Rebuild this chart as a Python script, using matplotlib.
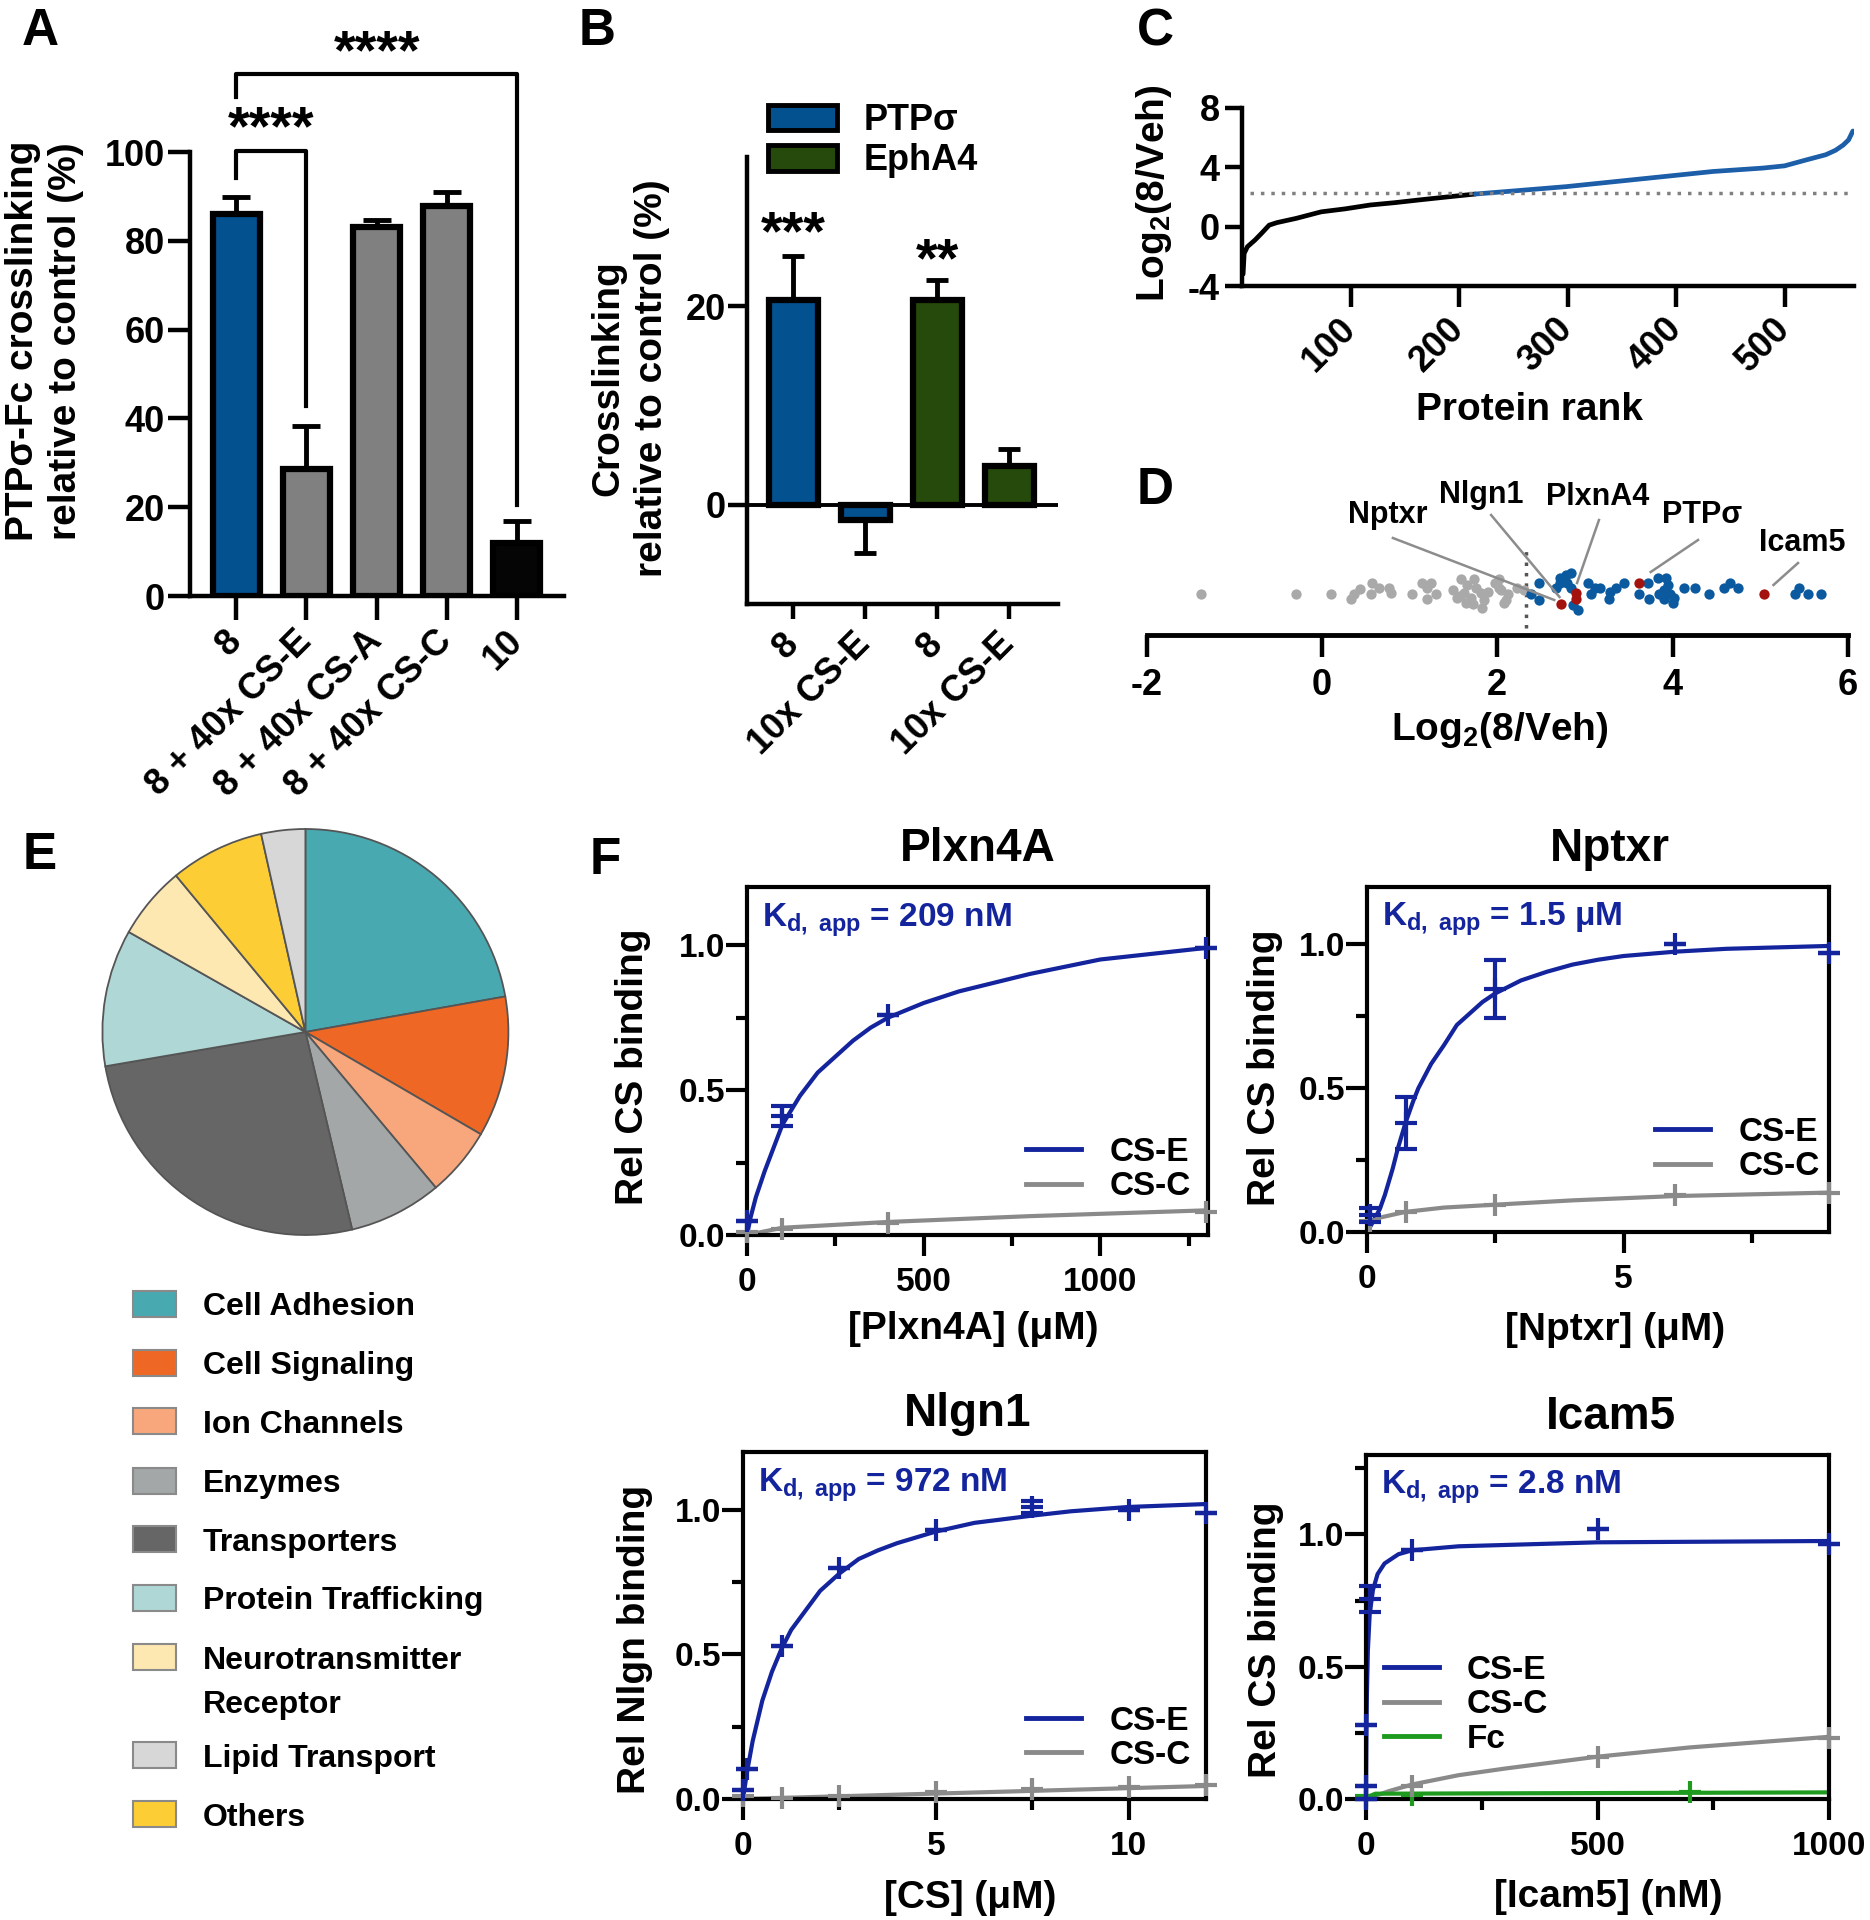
import numpy as np
import matplotlib
matplotlib.use('Agg')
import matplotlib.pyplot as plt
from matplotlib.patches import Patch, Rectangle
from matplotlib.lines import Line2D

# ---------------- data ----------------
# A: PTPsigma-Fc crosslinking relative to control (%)
a_labels = ['8', '8 + 40x CS-E', '8 + 40x CS-A', '8 + 40x CS-C', '10']
a_vals = [86.0, 28.5, 83.0, 87.8, 12.0]
a_err = [3.8, 9.8, 1.6, 3.3, 4.8]

# B: crosslinking relative to control (%)
b_labels = ['8', '10x CS-E', '8', '10x CS-E']
b_groups = ['PTPσ', 'PTPσ', 'EphA4', 'EphA4']
b_vals = [20.6, -1.5, 20.6, 3.9]
b_err = [4.4, 3.4, 2.0, 1.7]

# C: ranked log2(8/Veh)
c_rank = [1, 2, 5, 12, 18, 25, 32, 50, 73, 95, 118, 141, 163, 186, 215,
          254, 299, 344, 389, 434, 480, 500, 520, 538, 547, 554, 559, 563]
c_val = [-3.2, -1.8, -1.35, -0.9, -0.45, 0.1, 0.27, 0.56, 1.0, 1.2, 1.46, 1.62, 1.8, 1.98, 2.2,
         2.43, 2.7, 3.04, 3.38, 3.72, 3.95, 4.1, 4.5, 4.85, 5.15, 5.5, 5.85, 6.45]
cutoff = 2.3

# D: log2(8/Veh) of membrane proteins (x) with vertical jitter (y)
d_gray_x = [-1.38, -0.30, 0.10, 0.33, 0.37, 0.43, 0.57, 0.56, 0.65, 0.77, 0.79, 1.03, 1.14, 1.20,
            1.25, 1.20, 1.30, 1.49, 1.59, 1.54, 1.62, 1.64, 1.70, 1.74, 1.76, 1.81, 1.83, 1.85,
            2.02, 2.02, 2.08, 2.12, 1.98, 2.04, 2.10, 2.23, 2.31, 1.66, 1.72, 1.90, 1.57]
d_gray_y = [0, 0, 0, -5, 0, 5, 11, 0, 6, 6, 1, 0, 11, 6,
            11, -5, 0, 4, 15, -4, 1, -9, -4, 15, 6, 1, -14, -6,
            15, 6, -9, 0, 11, 4, -6, 6, 4, 9, -10, 2, -2]
d_blue_x = [2.38, 2.48, 2.48, 2.67, 2.71, 2.72, 2.78, 2.79, 2.84, 2.84, 2.86, 2.92, 3.03, 3.07,
            3.12, 3.17, 3.28, 3.29, 3.35, 3.45, 3.62, 3.72, 3.73, 3.83, 3.85, 3.90, 3.90, 3.93,
            3.95, 4.00, 3.97, 4.02, 4.13, 4.25, 4.42, 4.59, 4.66, 4.74, 5.39, 5.44, 5.54, 5.69]
d_blue_y = [0, 11, -6, 6, 16, 11, 19, 11, 21, 6, -11, -16, 11, 0,
            6, 6, -5, 2, 6, 11, 0, 11, -5, 16, 0, -5, 4, 16,
            9, -9, 0, -4, 6, 6, 0, 6, 11, 6, 0, 6, 0, 0]
d_red_x = [2.73, 2.90, 2.90, 3.62, 5.04]
d_red_y = [-10, 1, -5, 11, 0]
d_names = ['Nptxr', 'Nlgn1', 'PlxnA4', 'PTPσ', 'Icam5']
d_name_xy = [(0.75, 79), (1.82, 99), (3.14, 97), (4.34, 79), (5.48, 51)]
d_line_from = [(0.81, 56), (1.93, 79), (3.16, 74), (4.29, 54), (5.43, 31)]
d_line_to = [(2.65, -6), (2.71, -3), (2.91, 11), (3.75, 22), (5.15, 9)]

# E: protein classes (% of hits), pie order clockwise from top
e_cats = ['Cell Adhesion', 'Cell Signaling', 'Ion Channels', 'Enzymes', 'Transporters',
          'Protein Trafficking', 'Neurotransmitter\nReceptor', 'Others', 'Lipid Transport']
e_vals = [22.2, 11.2, 5.5, 7.4, 26.0, 10.9, 5.8, 7.5, 3.5]
e_legend = ['Cell Adhesion', 'Cell Signaling', 'Ion Channels', 'Enzymes', 'Transporters',
            'Protein Trafficking', 'Neurotransmitter\nReceptor', 'Lipid Transport', 'Others']

# F: binding curves (points and fitted curves)
f1_x = [0, 100, 400, 1300]
f1_cse = [0.05, 0.41, 0.76, 0.99]
f1_cse_err = [0, 0.035, 0, 0]
f1_csc = [0.01, 0.02, 0.04, 0.08]
f1_fit_x = [0, 10, 25, 50, 75, 100, 125, 150, 175, 200, 250, 300, 350, 400, 450, 500, 600, 700,
            800, 900, 1000, 1150, 1300]
f1_fit_e = [0.0, 0.06, 0.13, 0.22, 0.30, 0.38, 0.43, 0.48, 0.52, 0.56, 0.615, 0.67, 0.715, 0.75,
            0.775, 0.80, 0.84, 0.87, 0.90, 0.925, 0.95, 0.97, 0.99]
f1_fitc_x = [0, 100, 400, 800, 1300]
f1_fit_c = [0.0, 0.025, 0.045, 0.065, 0.085]

f2_x = [0.05, 0.75, 2.5, 6, 9]
f2_cse = [0.06, 0.38, 0.845, 1.0, 0.97]
f2_cse_err = [0.025, 0.09, 0.1, 0, 0]
f2_csc = [0.04, 0.07, 0.095, 0.13, 0.135]
f2_fit_x = [0, 0.1, 0.25, 0.35, 0.5, 0.6, 0.75, 0.9, 1.0, 1.25, 1.5, 1.75, 2.0, 2.25, 2.5, 3, 3.5,
            4, 4.5, 5, 6, 7, 9]
f2_fit_e = [0, 0.03, 0.08, 0.13, 0.22, 0.29, 0.38, 0.455, 0.5, 0.585, 0.65, 0.72, 0.76, 0.8, 0.83,
            0.875, 0.905, 0.93, 0.947, 0.96, 0.975, 0.985, 0.995]
f2_fitc_x = [0, 0.25, 0.75, 1.5, 2.5, 4, 6, 9]
f2_fit_c = [0.03, 0.05, 0.07, 0.085, 0.095, 0.11, 0.125, 0.137]

f3_x = [0, 0.1, 1, 2.5, 5, 7.5, 10, 12]
f3_cse = [0.03, 0.105, 0.53, 0.80, 0.93, 1.01, 1.0, 0.99]
f3_cse_err = [0, 0, 0, 0, 0, 0.02, 0, 0]
f3_csc_x = [0, 1, 2.5, 5, 7.5, 10, 12]
f3_csc = [0.01, 0.005, 0.012, 0.025, 0.035, 0.043, 0.05]
f3_fit_x = [0, 0.1, 0.25, 0.5, 0.75, 1, 1.25, 1.5, 2, 2.5, 3, 3.5, 4, 5, 6, 7.5, 8.5, 10, 12]
f3_fit_e = [0, 0.09, 0.2, 0.34, 0.44, 0.52, 0.585, 0.63, 0.72, 0.78, 0.83, 0.86, 0.885, 0.925,
            0.955, 0.98, 0.995, 1.01, 1.02]
f3_fitc_x = [0, 12]
f3_fit_c = [0.0, 0.045]

f4_x = [0, 0.2, 1, 8, 100, 500, 1000]
f4_cse = [0.0, 0.05, 0.28, 0.755, 0.94, 1.02, 0.965]
f4_cse_err = [0, 0, 0, 0.05, 0, 0, 0]
f4_csc_x = [0, 100, 500, 1000]
f4_csc = [0.0, 0.05, 0.16, 0.23]
f4_fc_x = [0, 100, 700]
f4_fc = [0.01, 0.015, 0.027]
f4_fit_x = [0, 0.5, 1, 2, 4, 8, 15, 25, 40, 70, 100, 200, 500, 1000]
f4_fit_e = [0, 0.12, 0.25, 0.4, 0.56, 0.7, 0.79, 0.85, 0.89, 0.925, 0.94, 0.955, 0.97, 0.975]
f4_fitc_x = [0, 50, 100, 200, 300, 500, 700, 1000]
f4_fit_c = [0, 0.03, 0.055, 0.09, 0.115, 0.16, 0.195, 0.235]
f4_fitfc_x = [0, 20, 1000]
f4_fit_fc = [0.005, 0.02, 0.025]

# ---------------- style ----------------
plt.rcParams['font.family'] = ['Liberation Sans', 'DejaVu Sans']
plt.rcParams['font.weight'] = 'bold'
plt.rcParams['axes.labelweight'] = 'bold'
plt.rcParams['axes.titleweight'] = 'bold'
plt.rcParams['axes.unicode_minus'] = False
plt.rcParams['mathtext.fontset'] = 'custom'
plt.rcParams['mathtext.rm'] = 'Liberation Sans:bold'
plt.rcParams['mathtext.bf'] = 'Liberation Sans:bold'
plt.rcParams['mathtext.it'] = 'Liberation Sans:bold'
plt.rcParams['mathtext.default'] = 'bf'

ptp_blue = '#03518f'
eph_green = '#264a0b'
navy = '#13249d'
cs_gray = '#8a8a8a'
fc_green = '#1e9a1e'

W, H = 1870, 1920
fig = plt.figure(figsize=(W / 100, H / 100), dpi=100)


def px_axes(left, top, right, bottom):
    return fig.add_axes([left / W, 1 - bottom / H, (right - left) / W, (bottom - top) / H])


def open_spines(ax, lw=3.2):
    ax.spines[['top', 'right']].set_visible(False)
    ax.spines[['left', 'bottom']].set_linewidth(lw)


# overlay in pixel coordinates for panel letters and the pie legend
ov = px_axes(0, 0, W, H)
ov.set_xlim(0, W)
ov.set_ylim(H, 0)
ov.axis('off')
for letter, (lx, ly) in zip('ABCDEF', [(40, 26), (597, 26), (1155, 27), (1155, 485), (40, 850), (605, 855)]):
    ov.text(lx, ly, letter, fontsize=37, ha='center', va='center_baseline')

# ---------------- A ----------------
axA = px_axes(190, 152, 564, 596)
xa = np.arange(len(a_vals))
axA.bar(xa, a_vals, width=0.67, color=[ptp_blue, '#808080', '#808080', '#808080', '#050505'],
        edgecolor='black', linewidth=4.5, zorder=3)
axA.errorbar(xa, a_vals, yerr=[np.zeros(len(a_err)), a_err], fmt='none', ecolor='black',
             elinewidth=3.5, capsize=10, capthick=3.5, zorder=2)
axA.set_xlim(-0.66, 4.67)
axA.set_ylim(0, 100)
axA.set_yticks(range(0, 101, 20))
axA.set_xticks(xa, a_labels, rotation=45, ha='right', va='center', rotation_mode='anchor')
open_spines(axA)
axA.tick_params(axis='y', length=16, width=3.2, labelsize=26, pad=2)
axA.tick_params(axis='x', length=17, width=3.2, labelsize=26, pad=12)
axA.set_ylabel('PTPσ-Fc crosslinking\nrelative to control (%)', fontsize=28, va='center', linespacing=1.25)
axA.yaxis.set_label_coords(-0.39, 0.574)


def bracket(ax, x0, x1, y, y0, y1, stars, ys):
    ax.plot([x0, x0, x1, x1], [y0, y, y, y1], color='black', lw=3, clip_on=False)
    ax.text((x0 + x1) / 2, ys, stars, ha='center', va='center', fontsize=40, clip_on=False)


bracket(axA, 0, 1, 100.2, 94.1, 42.9, '****', 105.0)
bracket(axA, 0, 4, 117.6, 112.4, 20.6, '****', 122.1)

# ---------------- B ----------------
axB = px_axes(747, 157, 1058, 604)
xb = np.arange(len(b_vals))
b_colors = [ptp_blue if g == 'PTPσ' else eph_green for g in b_groups]
axB.bar(xb, b_vals, width=0.68, color=b_colors, edgecolor='black', linewidth=4.5, zorder=3)
lo = [e if v < 0 else 0 for v, e in zip(b_vals, b_err)]
hi = [e if v >= 0 else 0 for v, e in zip(b_vals, b_err)]
axB.errorbar(xb, b_vals, yerr=[lo, hi], fmt='none', ecolor='black', elinewidth=3.5,
             capsize=8, capthick=3.5, zorder=2)
axB.axhline(0, color='black', lw=2.8, zorder=4)
axB.set_xlim(-0.64, 3.68)
axB.set_ylim(-10, 35)
axB.set_yticks([0, 20])
axB.set_xticks(xb, b_labels, rotation=45, ha='right', va='center', rotation_mode='anchor')
open_spines(axB)
axB.tick_params(axis='y', length=14, width=3.2, labelsize=26, pad=1)
axB.tick_params(axis='x', length=11, width=3.2, labelsize=26, pad=14)
axB.set_ylabel('Crosslinking\nrelative to control (%)', fontsize=28, va='center', linespacing=1.25)
axB.yaxis.set_label_coords(-0.375, 0.506)
axB.text(0, 27.1, '***', ha='center', va='center', fontsize=40)
axB.text(2, 24.4, '**', ha='center', va='center', fontsize=40)
fig.legend(handles=[Patch(facecolor=ptp_blue, edgecolor='black', lw=3.5),
                    Patch(facecolor=eph_green, edgecolor='black', lw=3.5)],
           labels=['PTPσ', 'EphA4'], loc='upper left', bbox_to_anchor=(768 / W, 1 - 103 / H),
           frameon=False, fontsize=26, handlelength=1.9, handleheight=0.72, handletextpad=0.75,
           labelspacing=0.15, borderpad=0, borderaxespad=0)

# ---------------- C ----------------
axC = px_axes(1242, 108, 1854, 286)
k = c_rank.index(215)
axC.plot(c_rank[:k + 1], c_val[:k + 1], color='black', lw=3.4, solid_capstyle='round')
axC.plot(c_rank[k:], c_val[k:], color='#1c5ea8', lw=3.4, solid_capstyle='round')
axC.hlines(cutoff, 7, 563, colors='#808080', linestyles=(0, (1, 2)), lw=2.5)
axC.set_xlim(0, 564)
axC.set_ylim(-4, 8)
axC.set_yticks([-4, 0, 4, 8])
axC.set_xticks([100, 200, 300, 400, 500])
axC.set_xticklabels(['100', '200', '300', '400', '500'], rotation=45, ha='right', va='center',
                    rotation_mode='anchor')
open_spines(axC)
axC.tick_params(axis='y', length=12, width=3.2, labelsize=26, pad=4)
axC.tick_params(axis='x', length=15, width=3.2, labelsize=26, pad=12)
axC.set_ylabel('Log$_2$(8/Veh)', fontsize=28, va='center')
axC.yaxis.set_label_coords(-0.144, 0.52)
axC.set_xlabel('Protein rank', fontsize=28, va='center')
axC.xaxis.set_label_coords(0.47, -0.697)

# ---------------- D ----------------
axD = px_axes(1146.5, 540, 1848, 635)
axD.scatter(d_gray_x, d_gray_y, s=55, color='#a9a9a9', linewidths=0, zorder=2)
axD.scatter(d_blue_x, d_blue_y, s=55, color='#0b5aa0', linewidths=0, zorder=3)
axD.scatter(d_red_x, d_red_y, s=55, color='#a3120c', linewidths=0, zorder=4)
axD.vlines(2.33, -34, 49, colors='#555555', linestyles=(0, (1, 2)), lw=2.5, zorder=1)
for name, (tx, ty), (x0, y0), (x1, y1) in zip(d_names, d_name_xy, d_line_from, d_line_to):
    axD.plot([x0, x1], [y0, y1], color='#8c8c8c', lw=1.8, clip_on=False, zorder=5)
    axD.text(tx, ty, name, ha='center', va='center', fontsize=22, clip_on=False)
axD.set_xlim(-2, 6)
axD.set_ylim(-41, 54)
axD.set_xticks([-2, 0, 2, 4, 6])
axD.set_yticks([])
axD.spines[['top', 'right', 'left']].set_visible(False)
axD.spines['bottom'].set_linewidth(3.5)
axD.tick_params(axis='x', length=16, width=3.2, labelsize=26, pad=8)
axD.set_xlabel('Log$_2$(8/Veh)', fontsize=28, va='center')
axD.xaxis.set_label_coords(0.504, -1.0)

# ---------------- E ----------------
e_color_map = {'Cell Adhesion': '#49a9b1', 'Cell Signaling': '#ef6724', 'Ion Channels': '#f8a77c',
               'Enzymes': '#a4a7a8', 'Transporters': '#666666', 'Protein Trafficking': '#afd7d6',
               'Neurotransmitter\nReceptor': '#fde8b1', 'Lipid Transport': '#d7d7d7',
               'Others': '#fdcd35'}
axE = px_axes(102.4, 829, 508.4, 1235)
axE.pie(e_vals, colors=[e_color_map[c] for c in e_cats], startangle=90, counterclock=False,
        wedgeprops=dict(edgecolor='#555555', linewidth=1.3))
axE.set_xlim(-1.0, 1.0)
axE.set_ylim(-1.0, 1.0)
axE.set_aspect('equal')

e_rows = [1303.6, 1362.9, 1421.4, 1480.7, 1539.3, 1597.9, 1657.1, 1755.0, 1814.3]
for cat, ry in zip(e_legend, e_rows):
    ov.add_patch(Rectangle((133, ry - 13), 43, 26, facecolor=e_color_map[cat], edgecolor='#8a8a8a', lw=1.5))
    extra = 44 * cat.count('\n')
    ov.text(203, ry + 11.5 + extra, cat, fontsize=23, ha='left', va='baseline', linespacing=1.6)


# ---------------- F ----------------
def binding(ax, title, title_x, xmax, ymax, xmaj, xmin, ymin_t, kd, xlabel, ylabel, lab_xy, ylab_xy):
    ax.set_xlim(0, xmax)
    ax.set_ylim(0, ymax)
    ax.set_xticks(xmaj)
    ax.set_xticks(xmin, minor=True)
    ax.set_yticks([0, 0.5, 1.0])
    ax.set_yticklabels(['0.0', '0.5', '1.0'])
    ax.set_yticks(ymin_t, minor=True)
    for s in ax.spines.values():
        s.set_linewidth(3)
    ax.tick_params(which='major', length=15, width=3, labelsize=24)
    ax.tick_params(which='minor', length=8, width=3)
    ax.tick_params(axis='x', which='major', pad=8)
    ax.tick_params(axis='y', which='major', pad=1)
    ax.set_title(title, fontsize=33, pad=19, x=title_x)
    ax.text(0.033, 0.887, kd, transform=ax.transAxes, color=navy, fontsize=24, ha='left', va='baseline')
    ax.set_xlabel(xlabel, fontsize=28, va='center')
    ax.xaxis.set_label_coords(*lab_xy)
    ax.set_ylabel(ylabel, fontsize=28, va='center')
    ax.yaxis.set_label_coords(*ylab_xy)


def pts(ax, x, y, err, color, z=5):
    ax.errorbar(x, y, yerr=err, fmt='+', ms=16, mew=3, color=color, ecolor=color,
                elinewidth=3, capsize=8, capthick=3, clip_on=False, zorder=z)


def legend_f(ax, labels, colors, xy):
    handles = [Line2D([], [], color=c, lw=3.5) for c in colors]
    ax.legend(handles, labels, loc='center left', bbox_to_anchor=xy, frameon=False, fontsize=24,
              handlelength=1.65, handletextpad=0.85, labelspacing=0.1, borderpad=0, borderaxespad=0)


ax1 = px_axes(747, 887, 1208, 1235)
ax1.plot(f1_fit_x, f1_fit_e, color=navy, lw=3)
ax1.plot(f1_fitc_x, f1_fit_c, color=cs_gray, lw=3)
pts(ax1, f1_x, f1_csc, None, cs_gray, 4)
pts(ax1, f1_x, f1_cse, f1_cse_err, navy)
binding(ax1, 'Plxn4A', 0.5, 1305, 1.2, [0, 500, 1000], [250, 750, 1250], [0.25, 0.75],
        'K$_{d,\\ app}$ = 209 nM', '[Plxn4A] (μM)', 'Rel CS binding', (0.49, -0.27), (-0.247, 0.484))
legend_f(ax1, ['CS-E', 'CS-C'], [navy, cs_gray], (0.606, 0.1875))

ax2 = px_axes(1367, 887, 1829, 1232)
ax2.plot(f2_fit_x, f2_fit_e, color=navy, lw=3)
ax2.plot(f2_fitc_x, f2_fit_c, color=cs_gray, lw=3)
pts(ax2, f2_x, f2_csc, None, cs_gray, 4)
pts(ax2, f2_x, f2_cse, f2_cse_err, navy)
binding(ax2, 'Nptxr', 0.525, 9, 1.2, [0, 5], [2.5, 7.5], [0.25, 0.75],
        'K$_{d,\\ app}$ = 1.5 μM', '[Nptxr] (μM)', 'Rel CS binding', (0.538, -0.285), (-0.22, 0.475))
legend_f(ax2, ['CS-E', 'CS-C'], [navy, cs_gray], (0.623, 0.239))

ax3 = px_axes(743, 1452, 1206, 1799)
ax3.plot(f3_fit_x, f3_fit_e, color=navy, lw=3)
ax3.plot(f3_fitc_x, f3_fit_c, color=cs_gray, lw=3)
pts(ax3, f3_csc_x, f3_csc, None, cs_gray, 4)
pts(ax3, f3_x, f3_cse, f3_cse_err, navy)
binding(ax3, 'Nlgn1', 0.485, 12, 1.2, [0, 5, 10], [2.5, 7.5], [0.25, 0.75],
        'K$_{d,\\ app}$ = 972 nM', '[CS] (μM)', 'Rel Nlgn binding', (0.49, -0.285), (-0.233, 0.46))
legend_f(ax3, ['CS-E', 'CS-C'], [navy, cs_gray], (0.612, 0.175))

ax4 = px_axes(1366, 1455, 1829, 1799)
ax4.plot(f4_fit_x, f4_fit_e, color=navy, lw=3)
ax4.plot(f4_fitc_x, f4_fit_c, color=cs_gray, lw=3)
ax4.plot(f4_fitfc_x, f4_fit_fc, color=fc_green, lw=3)
pts(ax4, f4_fc_x, f4_fc, None, fc_green, 3)
pts(ax4, f4_csc_x, f4_csc, None, cs_gray, 4)
pts(ax4, f4_x, f4_cse, f4_cse_err, navy)
binding(ax4, 'Icam5', 0.53, 1000, 1.3, [0, 500, 1000], [250, 750], [0.25, 0.75, 1.25],
        'K$_{d,\\ app}$ = 2.8 nM', '[Icam5] (nM)', 'Rel CS binding', (0.523, -0.285), (-0.217, 0.462))
legend_f(ax4, ['CS-E', 'CS-C', 'Fc'], [navy, cs_gray, fc_green], (0.038, 0.2736))

fig.savefig('out.png', dpi=100)
